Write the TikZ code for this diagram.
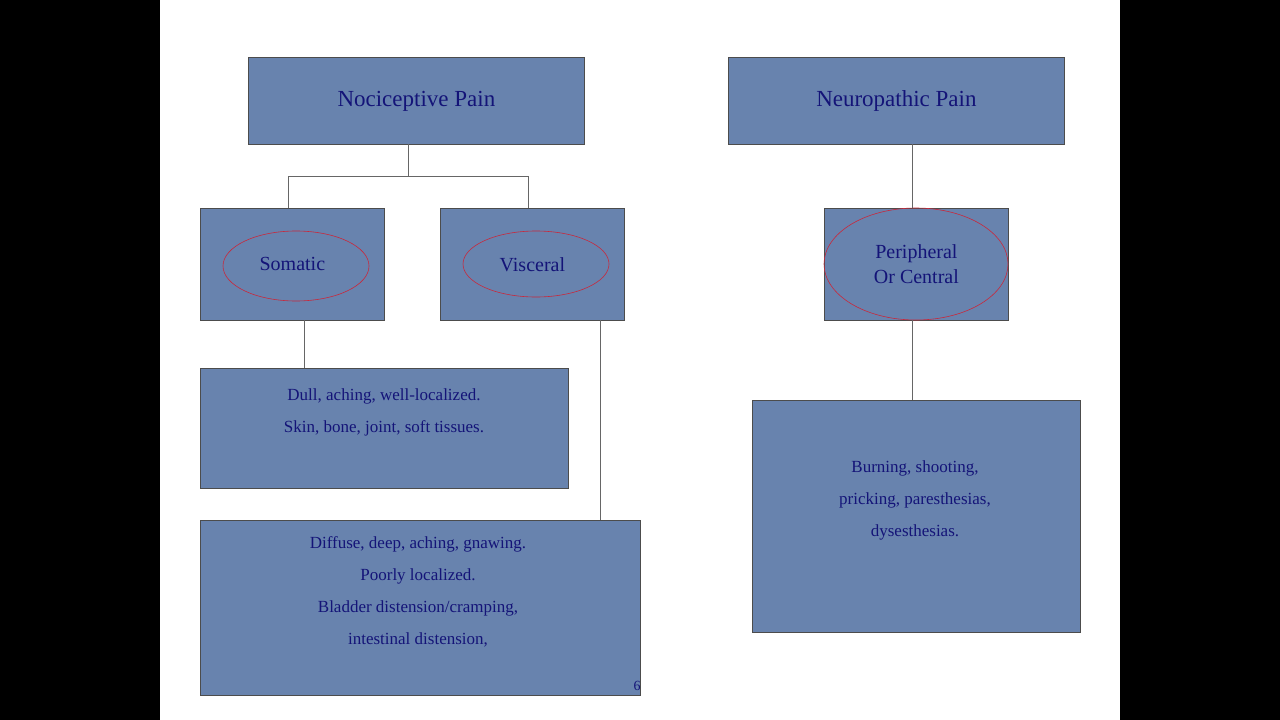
\documentclass[tikz,border=0pt]{standalone}
\usepackage{fontspec}
\setmainfont{Liberation Serif}
\begin{document}
\begin{tikzpicture}[x=1pt,y=-1pt,
  box/.style={draw=black!70,fill={rgb,255:red,104;green,131;blue,174},line width=0.8pt,text={rgb,255:red,20;green,20;blue,120},align=center,anchor=north west},
  oval/.style={draw={rgb,255:red,200;green,40;blue,60},line width=0.6pt},
  link/.style={draw=black!60,line width=0.7pt}]
\useasboundingbox (0,0) rectangle (1280,720);
\fill[black] (0,0) rectangle (160,720);
\fill[black] (1120,0) rectangle (1280,720);
\fill[white] (160,0) rectangle (1120,720);
\node[box,minimum width=336,minimum height=87,font=\fontsize{23}{28}\selectfont] (noc) at (248,57) {Nociceptive Pain};
\node[box,minimum width=336,minimum height=87,font=\fontsize{23}{28}\selectfont] (neu) at (728,57) {Neuropathic Pain};
\node[box,minimum width=184,minimum height=112,font=\fontsize{20}{28}\selectfont] (som) at (200,208) {Somatic};
\node[box,minimum width=184,minimum height=112,font=\fontsize{20}{28}\selectfont] (vis) at (440,208) {Visceral};
\node[box,minimum width=184,minimum height=112,font=\fontsize{20}{28}\selectfont] (per) at (824,208) {Peripheral\\[-3pt]Or Central};
\draw[oval] (296,266) ellipse [x radius=73,y radius=35];
\draw[oval] (536,264) ellipse [x radius=73,y radius=33];
\draw[oval] (916,264) ellipse [x radius=92,y radius=56];
\node[box,minimum width=368,minimum height=120] (dull) at (200,368) {};
\node[font=\fontsize{17}{24}\selectfont,text={rgb,255:red,20;green,20;blue,120},align=center] (dullt) at (384,412) {Dull, aching, well-localized.\\[8pt]Skin, bone, joint, soft tissues.};
\node[box,minimum width=440,minimum height=175] (dif) at (200,520) {};
\node[font=\fontsize{17}{24}\selectfont,text={rgb,255:red,20;green,20;blue,120},align=center] (dift) at (418,592) {Diffuse, deep, aching, gnawing.\\[8pt]Poorly localized.\\[8pt]Bladder distension/cramping,\\[8pt]intestinal distension,};
\node[box,minimum width=328,minimum height=232] (bur) at (752,400) {};
\node[font=\fontsize{17}{24}\selectfont,text={rgb,255:red,20;green,20;blue,120},align=center] (burt) at (915,500) {Burning, shooting,\\[8pt]pricking, paresthesias,\\[8pt]dysesthesias.};
\node[font=\fontsize{14}{16}\selectfont,text={rgb,255:red,20;green,20;blue,120}] (num) at (637,686) {6};
\coordinate (j1) at (408,176);
\coordinate (jl) at (288,176);
\coordinate (jr) at (528,176);
\draw[link] (408,144) -- (j1) (jl) -- (jr) (jl) -- (288,208) (jr) -- (528,208);
\draw[link] (304,320) -- (304,368);
\draw[link] (600,320) -- (600,520);
\draw[link] (912,144) -- (912,208);
\draw[link] (912,320) -- (912,400);
\end{tikzpicture}
\end{document}
